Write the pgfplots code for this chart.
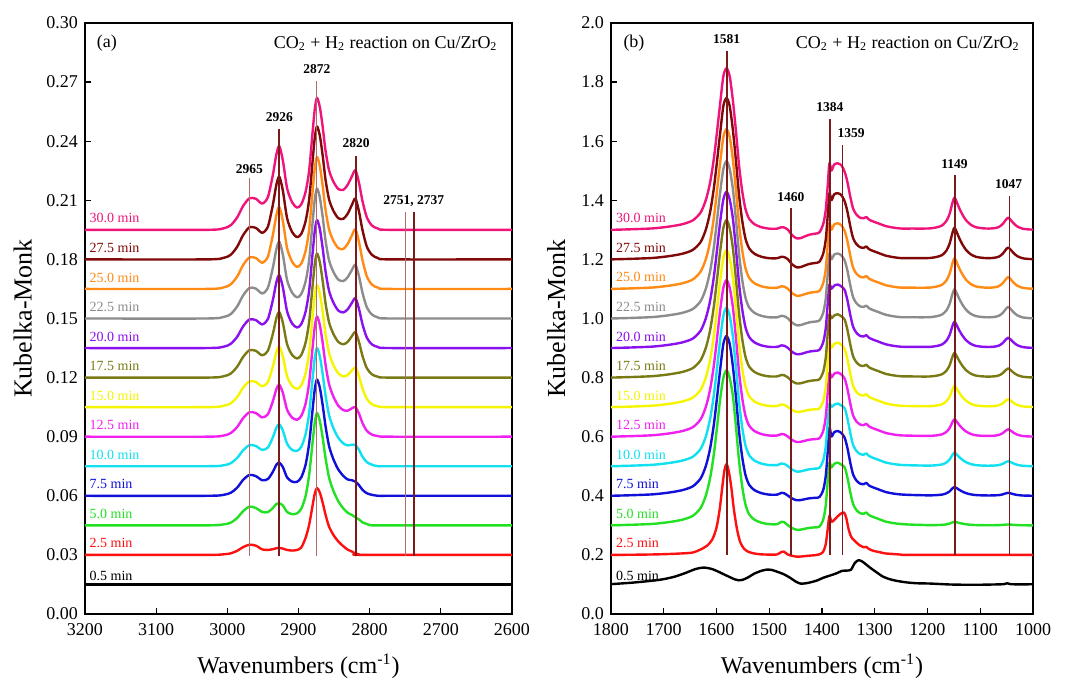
\documentclass[border=0pt]{standalone}
\usepackage{fontspec}
\setmainfont{Liberation Serif}
\usepackage{pgfplots}
\pgfplotsset{compat=1.18}
\newcommand{\myfs}[1]{\fontsize{#1}{#1}\selectfont}
\definecolor{cR}{HTML}{FF1010}
\definecolor{cG}{HTML}{22E022}
\definecolor{cB}{HTML}{1010D8}
\definecolor{cC}{HTML}{10E0F0}
\definecolor{cM}{HTML}{F020F0}
\definecolor{cY}{HTML}{F5F500}
\definecolor{cO}{HTML}{7A7A14}
\definecolor{cV}{HTML}{8A10F0}
\definecolor{cGr}{HTML}{8C8C8C}
\definecolor{cOr}{HTML}{FF8A14}
\definecolor{cMr}{HTML}{800808}
\definecolor{cP}{HTML}{F0147A}
\definecolor{lnD}{HTML}{7A1A1A}
\definecolor{lnL}{HTML}{B56A6A}
\tikzset{
  slab/.style={anchor=base west, inner sep=0pt, font=\myfs{7}},
  plab/.style={anchor=center, inner sep=0pt, font=\myfs{6.75}\bfseries}
}
\pgfplotsset{
  myax/.style={scale only axis, height=295.5pt, x dir=reverse,
    tick align=inside, xtick pos=bottom, ytick pos=left, major tick length=3pt,
    axis line style={line width=0.7pt}, every tick/.style={black, line width=0.6pt},
    tick label style={font=\myfs{9}},
    xticklabel style={yshift=-1pt},
    /pgf/number format/assume math mode=true,
    /pgf/number format/1000 sep={},
    xlabel style={font=\myfs{12}, at={(axis description cs:0.5,-0.088)}, anchor=center},
    ylabel style={font=\myfs{13}, rotate=0, anchor=center},
    every axis plot/.append style={line width=1.2pt, line join=round, smooth, tension=0.45},
    clip=true},
  vl/.style={line width=0.5pt, lnL, sharp plot},
  vd/.style={line width=1pt, lnD, sharp plot},
  vm/.style={line width=0.75pt, lnD, sharp plot}
}
\begin{document}
\begin{tikzpicture}
\path[use as bounding box] (-42.5pt,-32pt) rectangle (496pt,307pt);
% ---------------- panel (a)
\begin{axis}[myax, at={(0pt,0pt)}, anchor=south west, width=213.5pt,
  xmin=2600, xmax=3200, ymin=0, ymax=0.30,
  xtick={2600,2700,2800,2900,3000,3100,3200},
  ytick={0,0.03,0.06,0.09,0.12,0.15,0.18,0.21,0.24,0.27,0.30},
  yticklabel style={/pgf/number format/.cd, fixed, fixed zerofill, precision=2},
  xlabel={Wavenumbers (cm\textsuperscript{-1})},
  ylabel={Kubelka-Monk},
  ylabel style={at={(axis description cs:-0.146,0.5)}, rotate=0}]
\addplot[black] coordinates {(3200,.015)(2600,.015)};
\addplot[cR] coordinates {(3200,.03)(3030,.03)(3005,.0303)(2995,.0308)(2986,.0321)(2978,.0339)(2969,.0352)(2960,.0347)(2951,.0328)(2943,.0325)(2936,.0329)(2931,.0334)(2927,.0335)(2922,.0332)(2916,.0325)(2909,.0322)(2902,.0325)(2896,.0338)(2890,.0387)(2885,.0453)(2880,.0555)(2877,.0613)(2874,.064)(2870,.0616)(2866,.0565)(2862,.0504)(2857,.0443)(2851,.0402)(2844,.0368)(2837,.0344)(2831,.0327)(2825,.0317)(2820,.0307)(2815,.0303)(2810,.03)(2600,.03)};
\addplot[cG] coordinates {(3200,.045)(3030,.045)(3005,.0455)(2995,.0464)(2986,.0488)(2978,.0521)(2969,.0545)(2960,.0538)(2951,.0518)(2943,.0517)(2936,.0538)(2931,.0559)(2927,.0562)(2922,.0551)(2916,.0518)(2909,.0507)(2902,.0511)(2896,.0535)(2890,.0599)(2885,.0707)(2880,.0878)(2877,.0974)(2874,.102)(2870,.098)(2866,.0895)(2862,.0792)(2857,.0692)(2851,.0626)(2844,.0572)(2837,.0536)(2831,.0514)(2825,.0503)(2820,.0491)(2815,.048)(2810,.0465)(2804,.0457)(2797,.045)(2770,.045)(2600,.045)};
\addplot[cB] coordinates {(3200,.06)(3030,.06)(3005,.0605)(2995,.0616)(2986,.0642)(2978,.068)(2969,.0706)(2960,.07)(2951,.0679)(2943,.0685)(2936,.0722)(2931,.0758)(2927,.0768)(2922,.0746)(2916,.0693)(2909,.0672)(2902,.0671)(2896,.0694)(2890,.0758)(2885,.0866)(2880,.1043)(2877,.1143)(2874,.119)(2870,.1149)(2866,.106)(2862,.0954)(2857,.0852)(2851,.0786)(2844,.0733)(2837,.0701)(2831,.0683)(2825,.0679)(2820,.0672)(2815,.0654)(2810,.063)(2804,.0613)(2797,.0605)(2788,.06)(2770,.06)(2600,.06)};
\addplot[cC] coordinates {(3200,.075)(3030,.075)(3005,.0755)(2995,.0766)(2986,.0793)(2978,.083)(2969,.0857)(2960,.0853)(2951,.0833)(2943,.0845)(2936,.0897)(2931,.0946)(2927,.0963)(2922,.0932)(2916,.0864)(2909,.0833)(2902,.0828)(2896,.0849)(2890,.0913)(2885,.102)(2880,.12)(2877,.1302)(2874,.135)(2870,.1308)(2866,.1218)(2862,.111)(2857,.1009)(2851,.0944)(2844,.0894)(2837,.0866)(2831,.0856)(2825,.0859)(2820,.0858)(2815,.0833)(2810,.0798)(2804,.0771)(2797,.0758)(2788,.075)(2770,.075)(2600,.075)};
\addplot[cM] coordinates {(3200,.09)(3030,.09)(3005,.0906)(2995,.0919)(2986,.095)(2978,.0993)(2969,.1024)(2960,.102)(2951,.0998)(2943,.1014)(2936,.108)(2931,.1142)(2927,.1164)(2922,.1123)(2916,.1037)(2909,.0997)(2902,.0986)(2896,.1006)(2890,.1068)(2885,.1175)(2880,.1358)(2877,.1461)(2874,.151)(2870,.1467)(2866,.1376)(2862,.1266)(2857,.1166)(2851,.1104)(2844,.1057)(2837,.1035)(2831,.1032)(2825,.1044)(2820,.105)(2815,.1017)(2810,.0969)(2804,.093)(2797,.0911)(2788,.0903)(2770,.09)(2600,.09)};
\addplot[cY] coordinates {(3200,.105)(3030,.105)(3005,.1057)(2995,.107)(2986,.1102)(2978,.1148)(2969,.1181)(2960,.1178)(2951,.1156)(2943,.1177)(2936,.1256)(2931,.1329)(2927,.1357)(2922,.1308)(2916,.1207)(2909,.1158)(2902,.1143)(2896,.1161)(2890,.1223)(2885,.1329)(2880,.1515)(2877,.162)(2874,.167)(2870,.1627)(2866,.1534)(2862,.1422)(2857,.1324)(2851,.1264)(2844,.1221)(2837,.1206)(2831,.1213)(2825,.1236)(2820,.1251)(2815,.1207)(2810,.1145)(2804,.1092)(2797,.1065)(2788,.1054)(2770,.105)(2600,.105)};
\addplot[cO] coordinates {(3200,.12)(3030,.12)(3005,.1207)(2995,.1221)(2986,.1256)(2978,.1304)(2969,.1339)(2960,.1336)(2951,.1313)(2943,.1336)(2936,.1422)(2931,.1503)(2927,.1533)(2922,.1479)(2916,.1369)(2909,.1315)(2902,.1297)(2896,.1315)(2890,.1378)(2885,.1484)(2880,.1673)(2877,.178)(2874,.183)(2870,.1786)(2866,.1691)(2862,.1578)(2857,.148)(2851,.1422)(2844,.1381)(2837,.1369)(2831,.1381)(2825,.141)(2820,.1431)(2815,.1381)(2810,.1309)(2804,.1248)(2797,.1217)(2788,.1204)(2770,.12)(2600,.12)};
\addplot[cV] coordinates {(3200,.135)(3030,.135)(3005,.1357)(2995,.1372)(2986,.1408)(2978,.1459)(2969,.1495)(2960,.1492)(2951,.147)(2943,.1497)(2936,.1594)(2931,.1685)(2927,.172)(2922,.1659)(2916,.1536)(2909,.1475)(2902,.1454)(2896,.1472)(2890,.1535)(2885,.1643)(2880,.1838)(2877,.1948)(2874,.2)(2870,.1955)(2866,.1857)(2862,.174)(2857,.164)(2851,.1581)(2844,.154)(2837,.1531)(2831,.1546)(2825,.1579)(2820,.1603)(2815,.1549)(2810,.147)(2804,.1403)(2797,.1369)(2788,.1355)(2770,.135)(2600,.135)};
\addplot[cGr] coordinates {(3200,.15)(3030,.15)(3005,.1508)(2995,.1523)(2986,.1562)(2978,.1616)(2969,.1655)(2960,.1652)(2951,.1627)(2943,.1656)(2936,.1758)(2931,.1853)(2927,.189)(2922,.1825)(2916,.1695)(2909,.1631)(2902,.1607)(2896,.1625)(2890,.1688)(2885,.1797)(2880,.1995)(2877,.2107)(2874,.216)(2870,.2114)(2866,.2015)(2862,.1896)(2857,.1795)(2851,.1737)(2844,.1697)(2837,.169)(2831,.1709)(2825,.1746)(2820,.1773)(2815,.1715)(2810,.163)(2804,.1557)(2797,.1521)(2788,.1505)(2770,.15)(2600,.15)};
\addplot[cOr] coordinates {(3200,.165)(3030,.165)(3005,.1658)(2995,.1674)(2986,.1714)(2978,.177)(2969,.181)(2960,.1807)(2951,.1783)(2943,.1814)(2936,.1924)(2931,.2026)(2927,.2066)(2922,.1996)(2916,.1857)(2909,.1788)(2902,.1762)(2896,.1779)(2890,.1843)(2885,.1952)(2880,.2153)(2877,.2266)(2874,.232)(2870,.2273)(2866,.2173)(2862,.2052)(2857,.1952)(2851,.1895)(2844,.1857)(2837,.1853)(2831,.1878)(2825,.1921)(2820,.1953)(2815,.1889)(2810,.1795)(2804,.1714)(2797,.1673)(2788,.1656)(2770,.165)(2600,.165)};
\addplot[cMr] coordinates {(3200,.18)(3030,.18)(3005,.1808)(2995,.1824)(2986,.1865)(2978,.1922)(2969,.1963)(2960,.196)(2951,.1935)(2943,.1966)(2936,.2077)(2931,.218)(2927,.222)(2922,.215)(2916,.2009)(2909,.1939)(2902,.1913)(2896,.193)(2890,.1994)(2885,.2104)(2880,.2306)(2877,.2421)(2874,.2475)(2870,.2428)(2866,.2327)(2862,.2205)(2857,.2104)(2851,.2047)(2844,.2009)(2837,.2006)(2831,.2031)(2825,.2076)(2820,.2109)(2815,.2043)(2810,.1948)(2804,.1865)(2797,.1824)(2788,.1806)(2770,.18)(2600,.18)};
\addplot[cP] coordinates {(3200,.195)(3030,.195)(3005,.1958)(2995,.1974)(2986,.2014)(2978,.207)(2969,.211)(2960,.2108)(2951,.2083)(2943,.2116)(2936,.2229)(2931,.2334)(2927,.2375)(2922,.2303)(2916,.2161)(2909,.209)(2902,.2063)(2896,.208)(2890,.2143)(2885,.2252)(2880,.2453)(2877,.2566)(2874,.262)(2870,.2573)(2866,.2473)(2862,.2352)(2857,.2252)(2851,.2195)(2844,.2157)(2837,.2153)(2831,.2178)(2825,.2221)(2820,.2253)(2815,.2189)(2810,.2095)(2804,.2014)(2797,.1973)(2788,.1956)(2770,.195)(2600,.195)};
% marker lines
\addplot[vl] coordinates {(2969,0.0295)(2969,0.2215)};
\addplot[vd] coordinates {(2927,0.0295)(2927,0.2463)};
\addplot[vl] coordinates {(2874,0.0295)(2874,0.2708)};
\addplot[vm] coordinates {(2819,0.0295)(2819,0.2327)};
\addplot[vl] coordinates {(2749,0.0295)(2749,0.2039)};
\addplot[vd] coordinates {(2737,0.0295)(2737,0.2039)};
\node[plab] at (axis cs:2969,0.2259) {2965};
\node[plab] at (axis cs:2927,0.2522) {2926};
\node[plab] at (axis cs:2874,0.2768) {2872};
\node[plab] at (axis cs:2819,0.2390) {2820};
\node[plab] at (axis cs:2738,0.2098) {2751, 2737};
\node[anchor=center, inner sep=0pt, font=\myfs{9}] at (axis description cs:0.0515,0.966) {(a)};
\node[anchor=east, inner sep=0pt, font=\myfs{9}] at (axis description cs:0.967,0.966) {CO\textsubscript{2} + H\textsubscript{2} reaction on Cu/ZrO\textsubscript{2}};
% series labels
\node[slab, text=black] at (axis cs:3194,0.0170) {0.5 min};
\node[slab, text=cR] at (axis cs:3194,0.0335) {2.5 min};
\node[slab, text=cG] at (axis cs:3194,0.0485) {5.0 min};
\node[slab, text=cB] at (axis cs:3194,0.0635) {7.5 min};
\node[slab, text=cC] at (axis cs:3194,0.0785) {10.0 min};
\node[slab, text=cM] at (axis cs:3194,0.0935) {12.5 min};
\node[slab, text=cY] at (axis cs:3194,0.1085) {15.0 min};
\node[slab, text=cO] at (axis cs:3194,0.1235) {17.5 min};
\node[slab, text=cV] at (axis cs:3194,0.1385) {20.0 min};
\node[slab, text=cGr] at (axis cs:3194,0.1535) {22.5 min};
\node[slab, text=cOr] at (axis cs:3194,0.1685) {25.0 min};
\node[slab, text=cMr] at (axis cs:3194,0.1835) {27.5 min};
\node[slab, text=cP] at (axis cs:3194,0.1985) {30.0 min};
\end{axis}
% ---------------- panel (b)
\begin{axis}[myax, at={(263pt,0pt)}, anchor=south west, width=211pt,
  xmin=1000, xmax=1800, ymin=0, ymax=2.0,
  xtick={1000,1100,1200,1300,1400,1500,1600,1700,1800},
  ytick={0,0.2,0.4,0.6,0.8,1.0,1.2,1.4,1.6,1.8,2.0},
  yticklabel style={/pgf/number format/.cd, fixed, fixed zerofill, precision=1},
  xlabel={Wavenumbers (cm\textsuperscript{-1})},
  ylabel={Kubelka-Monk},
  ylabel style={at={(axis description cs:-0.130,0.5)}, rotate=0}]
\addplot[black] coordinates {(1800,.101)(1760,.106)(1720,.113)(1700,.118)(1680,.126)(1660,.138)(1640,.152)(1625,.157)(1610,.153)(1595,.142)(1587,.135)(1575,.125)(1565,.117)(1558,.114)(1550,.116)(1540,.124)(1528,.137)(1515,.146)(1505,.150)(1495,.149)(1485,.143)(1473,.135)(1460,.122)(1450,.110)(1441,.103)(1430,.104)(1420,.108)(1410,.113)(1397,.123)(1385,.130)(1372,.138)(1362,.146)(1352,.147)(1345,.150)(1338,.172)(1331,.182)(1324,.178)(1316,.167)(1309,.157)(1298,.143)(1284,.126)(1270,.117)(1258,.112)(1240,.107)(1220,.104)(1195,.103)(1160,.100)(1131,.099)(1100,.099)(1070,.100)(1055,.101)(1049,.104)(1043,.101)(1020,.100)(1000,.101)};
\addplot[cR] coordinates {(1800,.2)(1760,.2005)(1720,.2015)(1690,.203)(1665,.205)(1645,.208)(1630,.2185)(1618,.231)(1608,.252)(1600,.292)(1594,.3535)(1589,.43)(1585,.4855)(1581,.507)(1577,.4855)(1572,.43)(1567,.3535)(1561,.286)(1555,.243)(1548,.2215)(1540,.2107)(1528,.2046)(1515,.2018)(1500,.201)(1485,.2015)(1477,.21)(1472,.211)(1465,.2015)(1457,.197)(1448,.194)(1440,.1945)(1432,.196)(1423,.1975)(1413,.199)(1405,.202)(1398,.21)(1393,.235)(1389,.29)(1386,.332)(1382,.312)(1377,.318)(1370,.331)(1363,.341)(1358,.343)(1354,.325)(1350,.29)(1345,.262)(1340,.251)(1335,.242)(1328,.232)(1321,.226)(1316,.227)(1311,.22)(1303,.214)(1293,.21)(1280,.205)(1265,.203)(1250,.201)(1230,.2)(1000,.2)};
\addplot[cG] coordinates {(1800,.3)(1760,.302)(1720,.305)(1690,.311)(1665,.319)(1645,.332)(1630,.359)(1620,.402)(1612,.461)(1605,.541)(1599,.632)(1593,.728)(1587,.799)(1581,.825)(1575,.799)(1569,.739)(1563,.632)(1557,.514)(1551,.428)(1545,.37)(1538,.337)(1528,.319)(1515,.309)(1500,.304)(1485,.304)(1477,.312)(1472,.311)(1465,.301)(1457,.291)(1448,.285)(1440,.2857)(1432,.2887)(1423,.2917)(1413,.2932)(1405,.2955)(1398,.3174)(1393,.3654)(1389,.4526)(1386,.512)(1382,.4956)(1377,.508)(1370,.512)(1363,.505)(1357,.4962)(1352,.4635)(1346,.409)(1341,.3719)(1335,.3523)(1328,.3414)(1321,.3392)(1316,.3436)(1311,.3349)(1303,.3283)(1293,.3218)(1280,.3131)(1265,.3076)(1250,.3044)(1230,.3024)(1210,.3014)(1195,.3005)(1182,.301)(1172,.3017)(1164,.3034)(1158,.306)(1153,.3098)(1149,.312)(1145,.3106)(1140,.3082)(1134,.3058)(1127,.3036)(1118,.3019)(1108,.301)(1095,.3005)(1083,.3004)(1072,.3005)(1064,.3008)(1057,.3015)(1051,.3026)(1047,.303)(1043,.3026)(1037,.3017)(1030,.3008)(1020,.3003)(1010,.3001)(1000,.3001)};
\addplot[cB] coordinates {(1800,.4)(1760,.402)(1720,.405)(1690,.411)(1665,.419)(1645,.432)(1630,.459)(1620,.502)(1612,.561)(1605,.641)(1599,.732)(1593,.828)(1587,.914)(1581,.941)(1575,.914)(1569,.839)(1563,.732)(1557,.614)(1551,.528)(1545,.47)(1538,.437)(1528,.419)(1515,.409)(1500,.404)(1485,.404)(1477,.41)(1472,.409)(1465,.401)(1457,.391)(1448,.385)(1440,.3857)(1432,.3887)(1423,.3917)(1413,.3932)(1405,.3955)(1398,.4174)(1393,.4654)(1389,.5526)(1386,.631)(1382,.6006)(1377,.615)(1370,.619)(1363,.612)(1357,.5962)(1352,.5635)(1346,.509)(1341,.4719)(1335,.4523)(1328,.4414)(1321,.4392)(1316,.4436)(1311,.4349)(1303,.4283)(1293,.4218)(1280,.4131)(1265,.4076)(1250,.4044)(1230,.4028)(1210,.4019)(1195,.4014)(1182,.4024)(1172,.4042)(1164,.4084)(1158,.415)(1153,.4246)(1149,.43)(1145,.4264)(1140,.4204)(1134,.4144)(1127,.409)(1118,.4048)(1108,.4024)(1095,.4014)(1083,.4011)(1072,.4015)(1064,.4025)(1057,.405)(1051,.4085)(1047,.41)(1043,.4085)(1037,.4055)(1030,.4028)(1020,.401)(1010,.4004)(1000,.4002)};
\addplot[cC] coordinates {(1800,.5)(1760,.502)(1720,.505)(1690,.511)(1665,.519)(1645,.532)(1630,.559)(1620,.602)(1612,.661)(1605,.741)(1599,.832)(1593,.928)(1587,1.009)(1581,1.036)(1575,1.009)(1569,.939)(1563,.832)(1557,.714)(1551,.628)(1545,.57)(1538,.537)(1528,.519)(1515,.509)(1500,.504)(1485,.504)(1477,.509)(1472,.508)(1465,.501)(1457,.4892)(1448,.482)(1440,.4829)(1432,.4865)(1423,.4901)(1413,.4919)(1405,.4946)(1398,.5174)(1393,.5654)(1389,.6526)(1386,.712)(1382,.7006)(1377,.708)(1370,.712)(1363,.705)(1357,.6962)(1352,.6635)(1346,.609)(1341,.5719)(1335,.5523)(1328,.5414)(1321,.5392)(1316,.5436)(1311,.5349)(1303,.5283)(1293,.5218)(1280,.5131)(1265,.5076)(1250,.5044)(1230,.5031)(1210,.5024)(1195,.5021)(1182,.5037)(1172,.5064)(1164,.5129)(1158,.523)(1153,.5377)(1149,.546)(1145,.5405)(1140,.5313)(1134,.5221)(1127,.5138)(1118,.5074)(1108,.5037)(1095,.5021)(1083,.5018)(1072,.5025)(1064,.5043)(1057,.5085)(1051,.5145)(1047,.517)(1043,.5145)(1037,.5094)(1030,.5048)(1020,.5017)(1010,.5007)(1000,.5003)};
\addplot[cM] coordinates {(1800,.6)(1760,.602)(1720,.605)(1690,.611)(1665,.619)(1645,.632)(1630,.659)(1620,.702)(1612,.761)(1605,.841)(1599,.932)(1593,1.028)(1587,1.104)(1581,1.13)(1575,1.104)(1569,1.039)(1563,.932)(1557,.814)(1551,.728)(1545,.67)(1538,.637)(1528,.619)(1515,.609)(1500,.604)(1485,.604)(1477,.609)(1472,.608)(1465,.601)(1457,.5892)(1448,.582)(1440,.5829)(1432,.5865)(1423,.5901)(1413,.5919)(1405,.5946)(1398,.6174)(1393,.6654)(1389,.7526)(1386,.817)(1382,.8006)(1377,.813)(1370,.817)(1363,.81)(1357,.7962)(1352,.7635)(1346,.709)(1341,.6719)(1335,.6523)(1328,.6414)(1321,.6392)(1316,.6436)(1311,.6349)(1303,.6283)(1293,.6218)(1280,.6131)(1265,.6076)(1250,.6044)(1230,.6034)(1210,.6028)(1195,.6027)(1182,.6047)(1172,.6083)(1164,.6165)(1158,.6295)(1153,.6484)(1149,.659)(1145,.6519)(1140,.6401)(1134,.6283)(1127,.6177)(1118,.6094)(1108,.6047)(1095,.6029)(1083,.6025)(1072,.6036)(1064,.6063)(1057,.6125)(1051,.6213)(1047,.625)(1043,.6213)(1037,.6138)(1030,.607)(1020,.6025)(1010,.601)(1000,.6005)};
\addplot[cY] coordinates {(1800,.7)(1760,.702)(1720,.705)(1690,.711)(1665,.719)(1645,.732)(1630,.759)(1620,.802)(1612,.861)(1605,.941)(1599,1.032)(1593,1.128)(1587,1.205)(1581,1.232)(1575,1.205)(1569,1.139)(1563,1.032)(1557,.914)(1551,.828)(1545,.77)(1538,.737)(1528,.719)(1515,.709)(1500,.704)(1485,.704)(1477,.709)(1472,.708)(1465,.701)(1457,.6904)(1448,.684)(1440,.6848)(1432,.688)(1423,.6912)(1413,.6928)(1405,.6952)(1398,.7174)(1393,.7654)(1389,.8526)(1386,.918)(1382,.9006)(1377,.914)(1370,.918)(1363,.911)(1357,.8962)(1352,.8635)(1346,.809)(1341,.7719)(1335,.7523)(1328,.7414)(1321,.7392)(1316,.7436)(1311,.7349)(1303,.7283)(1293,.7218)(1280,.7131)(1265,.7076)(1250,.7044)(1230,.7036)(1210,.7032)(1195,.7032)(1182,.7058)(1172,.7101)(1164,.7202)(1158,.736)(1153,.759)(1149,.772)(1145,.7634)(1140,.749)(1134,.7346)(1127,.7216)(1118,.7115)(1108,.7058)(1095,.7034)(1083,.7028)(1072,.7039)(1064,.7068)(1057,.7135)(1051,.723)(1047,.727)(1043,.723)(1037,.7149)(1030,.7076)(1020,.7027)(1010,.7011)(1000,.7005)};
\addplot[cO] coordinates {(1800,.8)(1760,.802)(1720,.805)(1690,.811)(1665,.819)(1645,.832)(1630,.859)(1620,.902)(1612,.961)(1605,1.041)(1599,1.132)(1593,1.228)(1587,1.306)(1581,1.333)(1575,1.306)(1569,1.239)(1563,1.132)(1557,1.014)(1551,.928)(1545,.87)(1538,.837)(1528,.819)(1515,.809)(1500,.804)(1485,.804)(1477,.809)(1472,.808)(1465,.801)(1457,.788)(1448,.78)(1440,.781)(1432,.785)(1423,.789)(1413,.791)(1405,.794)(1398,.8174)(1393,.8654)(1389,.9526)(1386,1.014)(1382,1.0006)(1377,1.01)(1370,1.014)(1363,1.007)(1357,.9962)(1352,.9635)(1346,.909)(1341,.8719)(1335,.8523)(1328,.8414)(1321,.8392)(1316,.8436)(1311,.8349)(1303,.8283)(1293,.8218)(1280,.8131)(1265,.8076)(1250,.8044)(1230,.8039)(1210,.8035)(1195,.8038)(1182,.8067)(1172,.8118)(1164,.8235)(1158,.842)(1153,.8689)(1149,.884)(1145,.8739)(1140,.8571)(1134,.8403)(1127,.8252)(1118,.8134)(1108,.8067)(1095,.804)(1083,.8033)(1072,.8045)(1064,.8078)(1057,.8155)(1051,.8264)(1047,.831)(1043,.8264)(1037,.8171)(1030,.8087)(1020,.8031)(1010,.8012)(1000,.8006)};
\addplot[cV] coordinates {(1800,.9)(1760,.902)(1720,.905)(1690,.911)(1665,.919)(1645,.932)(1630,.959)(1620,1.002)(1612,1.061)(1605,1.141)(1599,1.232)(1593,1.328)(1587,1.403)(1581,1.429)(1575,1.403)(1569,1.339)(1563,1.232)(1557,1.114)(1551,1.028)(1545,.97)(1538,.937)(1528,.919)(1515,.909)(1500,.904)(1485,.904)(1477,.909)(1472,.908)(1465,.901)(1457,.8874)(1448,.879)(1440,.88)(1432,.8842)(1423,.8884)(1413,.8905)(1405,.8937)(1398,.9174)(1393,.9654)(1389,1.0526)(1386,1.115)(1382,1.1006)(1377,1.111)(1370,1.115)(1363,1.108)(1357,1.0962)(1352,1.0635)(1346,1.009)(1341,.9719)(1335,.9523)(1328,.9414)(1321,.9392)(1316,.9436)(1311,.9349)(1303,.9283)(1293,.9218)(1280,.9131)(1265,.9076)(1250,.9044)(1230,.904)(1210,.9037)(1195,.904)(1182,.9071)(1172,.9125)(1164,.9249)(1158,.9445)(1153,.973)(1149,.989)(1145,.9783)(1140,.9605)(1134,.9427)(1127,.9267)(1118,.9142)(1108,.9071)(1095,.9043)(1083,.9036)(1072,.9051)(1064,.9088)(1057,.9175)(1051,.9298)(1047,.935)(1043,.9298)(1037,.9193)(1030,.9098)(1020,.9035)(1010,.9014)(1000,.9007)};
\addplot[cGr] coordinates {(1800,1.0)(1760,1.002)(1720,1.005)(1690,1.011)(1665,1.019)(1645,1.032)(1630,1.059)(1620,1.102)(1612,1.161)(1605,1.241)(1599,1.332)(1593,1.428)(1587,1.506)(1581,1.533)(1575,1.506)(1569,1.439)(1563,1.332)(1557,1.214)(1551,1.128)(1545,1.07)(1538,1.037)(1528,1.019)(1515,1.009)(1500,1.004)(1485,1.004)(1477,1.009)(1472,1.008)(1465,1.001)(1457,0.9862)(1448,0.977)(1440,0.9781)(1432,0.9827)(1423,0.9873)(1413,0.9896)(1405,0.9931)(1398,1.0174)(1393,1.0654)(1389,1.1526)(1386,1.22)(1382,1.2006)(1377,1.216)(1370,1.22)(1363,1.213)(1357,1.1962)(1352,1.1635)(1346,1.109)(1341,1.0719)(1335,1.0523)(1328,1.0414)(1321,1.0392)(1316,1.0436)(1311,1.0349)(1303,1.0283)(1293,1.0218)(1280,1.0131)(1265,1.0076)(1250,1.0044)(1230,1.0042)(1210,1.004)(1195,1.0045)(1182,1.0079)(1172,1.0139)(1164,1.0277)(1158,1.0495)(1153,1.0812)(1149,1.099)(1145,1.0871)(1140,1.0673)(1134,1.0475)(1127,1.0297)(1118,1.0158)(1108,1.0079)(1095,1.0048)(1083,1.004)(1072,1.0057)(1064,1.0098)(1057,1.0195)(1051,1.0332)(1047,1.039)(1043,1.0332)(1037,1.0215)(1030,1.0109)(1020,1.0039)(1010,1.0016)(1000,1.0008)};
\addplot[cOr] coordinates {(1800,1.1)(1760,1.102)(1720,1.105)(1690,1.111)(1665,1.119)(1645,1.132)(1630,1.159)(1620,1.202)(1612,1.261)(1605,1.341)(1599,1.432)(1593,1.528)(1587,1.614)(1581,1.641)(1575,1.614)(1569,1.539)(1563,1.432)(1557,1.314)(1551,1.228)(1545,1.17)(1538,1.137)(1528,1.119)(1515,1.109)(1500,1.104)(1485,1.104)(1477,1.109)(1472,1.108)(1465,1.101)(1457,1.0862)(1448,1.077)(1440,1.0781)(1432,1.0827)(1423,1.0873)(1413,1.0896)(1405,1.0931)(1398,1.1174)(1393,1.1654)(1389,1.2526)(1386,1.322)(1382,1.3006)(1377,1.318)(1370,1.322)(1363,1.315)(1357,1.2962)(1352,1.2635)(1346,1.209)(1341,1.1719)(1335,1.1523)(1328,1.1414)(1321,1.1392)(1316,1.1436)(1311,1.1349)(1303,1.1283)(1293,1.1218)(1280,1.1131)(1265,1.1076)(1250,1.1044)(1230,1.1043)(1210,1.1041)(1195,1.1047)(1182,1.1083)(1172,1.1146)(1164,1.1291)(1158,1.152)(1153,1.1853)(1149,1.204)(1145,1.1915)(1140,1.1707)(1134,1.1499)(1127,1.1312)(1118,1.1166)(1108,1.1083)(1095,1.105)(1083,1.1041)(1072,1.1058)(1064,1.11)(1057,1.12)(1051,1.134)(1047,1.14)(1043,1.134)(1037,1.122)(1030,1.1112)(1020,1.104)(1010,1.1016)(1000,1.1008)};
\addplot[cMr] coordinates {(1800,1.2)(1760,1.202)(1720,1.205)(1690,1.211)(1665,1.219)(1645,1.232)(1630,1.259)(1620,1.302)(1612,1.361)(1605,1.441)(1599,1.532)(1593,1.628)(1587,1.719)(1581,1.746)(1575,1.719)(1569,1.639)(1563,1.532)(1557,1.414)(1551,1.328)(1545,1.27)(1538,1.237)(1528,1.219)(1515,1.209)(1500,1.204)(1485,1.204)(1477,1.209)(1472,1.208)(1465,1.201)(1457,1.1838)(1448,1.173)(1440,1.1743)(1432,1.1797)(1423,1.1851)(1413,1.1878)(1405,1.1919)(1398,1.2174)(1393,1.2654)(1389,1.3526)(1386,1.424)(1382,1.4006)(1377,1.42)(1370,1.424)(1363,1.417)(1357,1.3962)(1352,1.3635)(1346,1.309)(1341,1.2719)(1335,1.2523)(1328,1.2414)(1321,1.2392)(1316,1.2436)(1311,1.2349)(1303,1.2283)(1293,1.2218)(1280,1.2131)(1265,1.2076)(1250,1.2044)(1230,1.2043)(1210,1.2042)(1195,1.2048)(1182,1.2086)(1172,1.215)(1164,1.23)(1158,1.2535)(1153,1.2877)(1149,1.307)(1145,1.2942)(1140,1.2728)(1134,1.2514)(1127,1.2321)(1118,1.2171)(1108,1.2086)(1095,1.2051)(1083,1.2041)(1072,1.2059)(1064,1.21)(1057,1.22)(1051,1.234)(1047,1.24)(1043,1.234)(1037,1.222)(1030,1.2112)(1020,1.204)(1010,1.2016)(1000,1.2008)};
\addplot[cP] coordinates {(1800,1.3)(1760,1.302)(1720,1.305)(1690,1.311)(1665,1.319)(1645,1.332)(1630,1.359)(1620,1.402)(1612,1.461)(1605,1.541)(1599,1.632)(1593,1.728)(1587,1.82)(1581,1.847)(1575,1.82)(1569,1.739)(1563,1.632)(1557,1.514)(1551,1.428)(1545,1.37)(1538,1.337)(1528,1.319)(1515,1.309)(1500,1.304)(1485,1.304)(1477,1.309)(1472,1.308)(1465,1.301)(1457,1.2826)(1448,1.271)(1440,1.2724)(1432,1.2782)(1423,1.284)(1413,1.287)(1405,1.2913)(1398,1.3174)(1393,1.3654)(1389,1.4526)(1386,1.525)(1382,1.5006)(1377,1.521)(1370,1.525)(1363,1.518)(1357,1.4962)(1352,1.4635)(1346,1.409)(1341,1.3719)(1335,1.3523)(1328,1.3414)(1321,1.3392)(1316,1.3436)(1311,1.3349)(1303,1.3283)(1293,1.3218)(1280,1.3131)(1265,1.3076)(1250,1.3044)(1230,1.3044)(1210,1.3043)(1195,1.3049)(1182,1.3087)(1172,1.3153)(1164,1.3305)(1158,1.3545)(1153,1.3894)(1149,1.409)(1145,1.3959)(1140,1.3741)(1134,1.3523)(1127,1.3327)(1118,1.3174)(1108,1.3087)(1095,1.3052)(1083,1.3043)(1072,1.306)(1064,1.3103)(1057,1.3205)(1051,1.3349)(1047,1.341)(1043,1.3349)(1037,1.3226)(1030,1.3115)(1020,1.3041)(1010,1.3016)(1000,1.3008)};
% marker lines
\addplot[vd] coordinates {(1581,0.2)(1581,1.904)};
\addplot[vm] coordinates {(1459,0.2)(1459,1.373)};
\addplot[vd] coordinates {(1385,0.2)(1385,1.676)};
\addplot[vm] coordinates {(1361,0.2)(1361,1.588)};
\addplot[vd] coordinates {(1148,0.2)(1148,1.484)};
\addplot[vm] coordinates {(1045,0.2)(1045,1.416)};
\node[plab] at (axis cs:1581,1.944) {1581};
\node[plab] at (axis cs:1459,1.412) {1460};
\node[plab] at (axis cs:1385,1.717) {1384};
\node[plab] at (axis cs:1345,1.627) {1359};
\node[plab] at (axis cs:1149,1.523) {1149};
\node[plab] at (axis cs:1046,1.454) {1047};
\node[anchor=center, inner sep=0pt, font=\myfs{9}] at (axis description cs:0.0545,0.966) {(b)};
\node[anchor=east, inner sep=0pt, font=\myfs{9}] at (axis description cs:0.969,0.966) {CO\textsubscript{2} + H\textsubscript{2} reaction on Cu/ZrO\textsubscript{2}};
% series labels
\node[slab, text=black] at (axis cs:1791,0.112) {0.5 min};
\node[slab, text=cR] at (axis cs:1791,0.2237) {2.5 min};
\node[slab, text=cG] at (axis cs:1791,0.3237) {5.0 min};
\node[slab, text=cB] at (axis cs:1791,0.4237) {7.5 min};
\node[slab, text=cC] at (axis cs:1791,0.5237) {10.0 min};
\node[slab, text=cM] at (axis cs:1791,0.6237) {12.5 min};
\node[slab, text=cY] at (axis cs:1791,0.7237) {15.0 min};
\node[slab, text=cO] at (axis cs:1791,0.8237) {17.5 min};
\node[slab, text=cV] at (axis cs:1791,0.9237) {20.0 min};
\node[slab, text=cGr] at (axis cs:1791,1.0237) {22.5 min};
\node[slab, text=cOr] at (axis cs:1791,1.1237) {25.0 min};
\node[slab, text=cMr] at (axis cs:1791,1.2237) {27.5 min};
\node[slab, text=cP] at (axis cs:1791,1.3237) {30.0 min};
\end{axis}
\end{tikzpicture}
\end{document}
